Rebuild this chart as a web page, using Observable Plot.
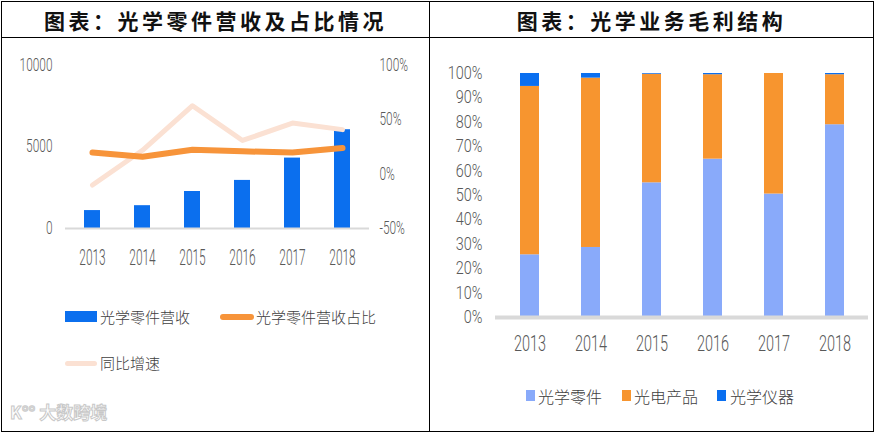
<!DOCTYPE html>
<html><head><meta charset="utf-8">
<script src="https://cdn.jsdelivr.net/npm/d3@7"></script>
<script src="https://cdn.jsdelivr.net/npm/@observablehq/plot@0.6"></script>
<style>
body{margin:0;background:#fff;}
#wrap{position:relative;width:877px;height:435px;overflow:hidden;font-family:"Noto Sans CJK SC",sans-serif;background:#fff;}
.ln{position:absolute;background:#000;}
.title{position:absolute;top:4px;height:32px;line-height:32px;font-size:21px;font-weight:700;letter-spacing:3.5px;text-align:center;color:#111;white-space:nowrap;}
.leg{position:absolute;font-size:15px;color:#404040;line-height:20px;white-space:nowrap;font-weight:300;}
.sw{position:absolute;}
.plot{position:absolute;}
</style></head><body><div id="wrap">
<div class="ln" style="left:1px;top:1px;width:873px;height:1px"></div>
<div class="ln" style="left:1px;top:431px;width:873px;height:1px"></div>
<div class="ln" style="left:1px;top:1px;width:1px;height:431px"></div>
<div class="ln" style="left:873px;top:1px;width:1px;height:431px"></div>
<div class="ln" style="left:429px;top:1px;width:1px;height:431px"></div>
<div class="ln" style="left:1px;top:37px;width:873px;height:1px"></div>
<div class="title" style="left:2px;width:427px">图表：光学零件营收及占比情况</div>
<div class="title" style="left:430px;width:443px">图表：光学业务毛利结构</div>
<div id="left" class="plot" style="left:0;top:40px"></div>
<div id="right" class="plot" style="left:431px;top:40px"></div>

<div class="sw" style="left:65px;top:311px;width:32px;height:11px;background:#0b6fee"></div>
<div class="leg" style="left:100px;top:307px">光学零件营收</div>
<div class="sw" style="left:220px;top:314px;width:34px;height:6px;border-radius:3px;background:#f7943a"></div>
<div class="leg" style="left:256px;top:307px">光学零件营收占比</div>
<div class="sw" style="left:65px;top:361px;width:32px;height:5px;border-radius:3px;background:#fbe1d3"></div>
<div class="leg" style="left:100px;top:353px">同比增速</div>

<div class="leg" style="left:10px;top:402px;font-size:17px;color:#fff;-webkit-text-stroke:1px #c8c8c8;font-weight:700">K°° 大数跨境</div>

<div class="sw" style="left:526px;top:390px;width:9px;height:11px;background:#89aafa"></div>
<div class="leg" style="left:538px;top:386px;font-size:16px">光学零件</div>
<div class="sw" style="left:622px;top:390px;width:9px;height:11px;background:#f7952f"></div>
<div class="leg" style="left:634px;top:386px;font-size:16px">光电产品</div>
<div class="sw" style="left:717px;top:390px;width:9px;height:11px;background:#0a6ff0"></div>
<div class="leg" style="left:730px;top:386px;font-size:16px">光学仪器</div>
</div>
<script>
// ---- data: left chart ----
const years = ["2013", "2014", "2015", "2016", "2017", "2018"];
const revenue = [1100, 1400, 2270, 2950, 4320, 6060];      // 光学零件营收
const sharePct = [20, 16, 22.5, 21, 20, 24];                  // 光学零件营收占比 (%)
const yoyPct = [-10, 22, 63, 31, 47, 41];                     // 同比增速 (%)
const leftTicks = [0, 5000, 10000];
const rightTicks = [-50, 0, 50, 100];

// ---- data: right chart ----
const series = ["光学零件", "光电产品", "光学仪器"];
const partsPct = [25.7, 28.7, 55.2, 64.9, 50.6, 79.0];
const optoPct = [69.0, 69.4, 44.5, 34.6, 49.4, 20.5];
const instrPct = [5.3, 1.9, 0.3, 0.5, 0.0, 0.5];
const pctTicks = [0, 10, 20, 30, 40, 50, 60, 70, 80, 90, 100];

const fontNum = "Roboto, 'Liberation Sans', Arial, sans-serif";

// horizontally compress / vertically stretch tick labels around their anchor point
function stretch(svg, selector, sx, sy) {
  svg.querySelectorAll(selector).forEach(t => {
    const ctm = t.getCTM();
    const pctm = t.parentNode.getCTM();
    if (!ctm || !pctm) return;
    const x = t.x.baseVal.numberOfItems ? t.x.baseVal.getItem(0).value : 0;
    const y = t.y.baseVal.numberOfItems ? t.y.baseVal.getItem(0).value : 0;
    const p = svg.createSVGPoint(); p.x = x; p.y = y;
    const local = p.matrixTransform(ctm).matrixTransform(pctm.inverse());
    t.removeAttribute("x"); t.removeAttribute("y");
    t.setAttribute("transform", `translate(${local.x},${local.y}) scale(${sx},${sy})`);
  });
}

// dual axis mapping: right percent -> left units
const rMin = d3.min(rightTicks), rMax = d3.max(rightTicks);
const lMax = d3.max(leftTicks);
const toLeft = p => (p - rMin) / (rMax - rMin) * lMax;
const fromLeft = v => Math.round(v / lMax * (rMax - rMin) + rMin);

const revData = years.map((y, i) => ({year: y, v: revenue[i]}));
const shareData = years.map((y, i) => ({year: y, v: toLeft(sharePct[i])}));
const yoyData = years.map((y, i) => ({year: y, v: toLeft(yoyPct[i])}));

const leftPlot = Plot.plot({
  width: 430, height: 240,
  marginTop: 25, marginBottom: 52, marginLeft: 65, marginRight: 61,
  style: {color: "#595959", fontFamily: fontNum, fontSize: "17px", fontWeight: 300, background: "transparent"},
  x: {domain: years, paddingInner: 0.683, paddingOuter: 0.357, axis: null},
  y: {domain: [0, lMax], axis: null},
  marks: [
    Plot.barY(revData, {x: "year", y: "v", fill: "#0b6fee"}),
    Plot.ruleY([0], {stroke: "#d9d9d9", strokeWidth: 2}),
    Plot.line(yoyData, {x: "year", y: "v", stroke: "#fbe1d3", strokeWidth: 5, strokeLinecap: "round", strokeLinejoin: "round"}),
    Plot.line(shareData, {x: "year", y: "v", stroke: "#f7943a", strokeWidth: 6, strokeLinecap: "round", strokeLinejoin: "round"}),
    Plot.axisX({tickSize: 0, tickPadding: 24, fontSize: 17, label: null}),
    Plot.axisY({anchor: "left", ticks: leftTicks, tickFormat: d => String(d), tickSize: 0, tickPadding: 13, fontSize: 17, label: null}),
    Plot.axisY({anchor: "right", ticks: rightTicks.map(toLeft), tickFormat: d => fromLeft(d) + "%", tickSize: 0, tickPadding: 10, fontSize: 17, label: null})
  ]
});
document.getElementById("left").appendChild(leftPlot);
stretch(leftPlot, 'g[aria-label="x-axis tick label"] text', 0.7, 1.3);
stretch(leftPlot, 'g[aria-label="y-axis tick label"] text', 0.7, 1.1);

const stackData = [];
years.forEach((y, i) => {
  stackData.push({year: y, s: series[0], v: partsPct[i]});
  stackData.push({year: y, s: series[1], v: optoPct[i]});
  stackData.push({year: y, s: series[2], v: instrPct[i]});
});

const rightPlot = Plot.plot({
  width: 446, height: 327,
  marginTop: 33, marginBottom: 50, marginLeft: 64, marginRight: 9,
  style: {color: "#595959", fontFamily: fontNum, fontSize: "17px", fontWeight: 300, background: "transparent"},
  x: {domain: years, paddingInner: 0.693, paddingOuter: 0.359, axis: null},
  y: {domain: [0, 100], axis: null},
  color: {domain: series, range: ["#89aafa", "#f7952f", "#0a6ff0"]},
  marks: [
    Plot.barY(stackData, {x: "year", y: "v", fill: "s"}),
    Plot.ruleY([0], {stroke: "#d9d9d9", strokeWidth: 4}),
    Plot.axisX({tickSize: 0, tickPadding: 21, fontSize: 17, label: null}),
    Plot.axisY({ticks: pctTicks, tickFormat: d => d + "%", tickSize: 0, tickPadding: 13, fontSize: 17, label: null})
  ]
});
document.getElementById("right").appendChild(rightPlot);
stretch(rightPlot, 'g[aria-label="x-axis tick label"] text', 0.85, 1.3);
stretch(rightPlot, 'g[aria-label="y-axis tick label"] text', 0.85, 1.07);
</script>
</body></html>
